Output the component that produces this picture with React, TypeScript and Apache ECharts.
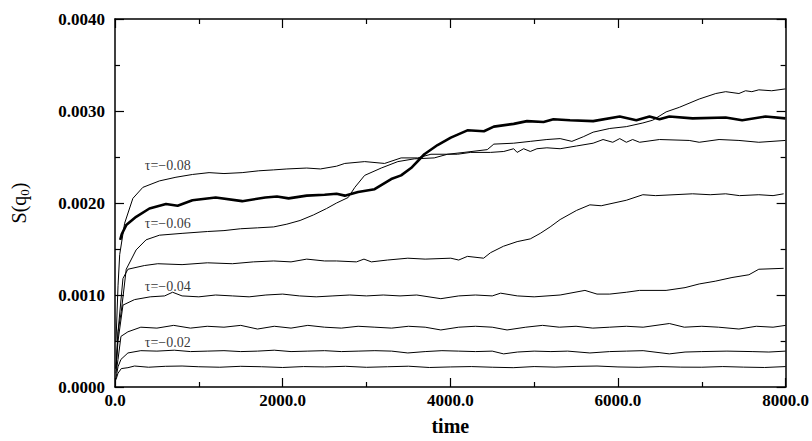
import React, { useEffect, useRef } from "react";
import * as echarts from "echarts";

const xTicks = [0, 2000, 4000, 6000, 8000];
const yTicks = [0, 0.001, 0.002, 0.003, 0.004];

const tau01: [number, number][] = [
  [12, 0.00008], [36, 0.00015], [75, 0.0002], [154, 0.00021], [233, 0.000228], [400, 0.000215], [600, 0.000225], [800, 0.000228],
  [1000, 0.00022], [1250, 0.000215], [1500, 0.000225], [1750, 0.00022], [2000, 0.000212], [2250, 0.000222], [2500, 0.000218],
  [2750, 0.000225], [3000, 0.000214], [3250, 0.00022], [3500, 0.000226], [3750, 0.000212], [4000, 0.000218], [4250, 0.000222],
  [4500, 0.000215], [4750, 0.00021], [5000, 0.000222], [5250, 0.000216], [5500, 0.000224], [5750, 0.000228], [6000, 0.000218],
  [6250, 0.000214], [6500, 0.000222], [6750, 0.000216], [7000, 0.000215], [7250, 0.000222], [7500, 0.000216], [7750, 0.000212],
  [8000, 0.000222],
];

const tau02: [number, number][] = [
  [12, 0.0001], [36, 0.00022], [71, 0.0003], [154, 0.00037], [308, 0.000395], [500, 0.00039], [707, 0.0004], [900, 0.000385],
  [1100, 0.00039], [1300, 0.000395], [1500, 0.000385], [1700, 0.00039], [1900, 0.0004], [2100, 0.000385], [2300, 0.00039],
  [2500, 0.000395], [2700, 0.000385], [2900, 0.00039], [3100, 0.000395], [3300, 0.00039], [3493, 0.00037], [3700, 0.000385],
  [3900, 0.000395], [4100, 0.00039], [4300, 0.000385], [4500, 0.00039], [4636, 0.00036], [4800, 0.00038], [5000, 0.00039],
  [5200, 0.000385], [5400, 0.00039], [5665, 0.00037], [5900, 0.000385], [6100, 0.00039], [6300, 0.000395], [6613, 0.00036],
  [6800, 0.00038], [7000, 0.000385], [7300, 0.00039], [7600, 0.000385], [7800, 0.00038], [8000, 0.00039],
];

const tau03: [number, number][] = [
  [12, 0.00015], [36, 0.0003], [71, 0.00055], [154, 0.0006], [308, 0.00065], [500, 0.00064], [700, 0.00067], [900, 0.00064],
  [1100, 0.00066], [1300, 0.00065], [1500, 0.00067], [1700, 0.00063], [1900, 0.00066], [2100, 0.00064], [2300, 0.00067],
  [2500, 0.00065], [2700, 0.00064], [2900, 0.00066], [3100, 0.00065], [3300, 0.00064], [3500, 0.00066], [3700, 0.00065],
  [3887, 0.00062], [4100, 0.00065], [4300, 0.00066], [4500, 0.00065], [4677, 0.00062], [4900, 0.00065], [5100, 0.00067],
  [5300, 0.00065], [5500, 0.00066], [5700, 0.00064], [5900, 0.00065], [6100, 0.00066], [6300, 0.00065], [6613, 0.00069],
  [6791, 0.00065], [7000, 0.00066], [7200, 0.00065], [7443, 0.00063], [7650, 0.00066], [7850, 0.00065], [8000, 0.00067],
];

const tau04: [number, number][] = [
  [12, 0.0002], [36, 0.0005], [95, 0.00089], [233, 0.00095], [420, 0.00098], [592, 0.00099], [687, 0.00103], [800, 0.00099],
  [1000, 0.00098], [1200, 0.001], [1400, 0.00099], [1600, 0.00098], [1800, 0.001], [2000, 0.00101], [2200, 0.00099],
  [2400, 0.00098], [2600, 0.00099], [2800, 0.001], [3000, 0.00099], [3200, 0.001], [3400, 0.00099], [3600, 0.001],
  [3887, 0.00096], [4100, 0.00099], [4300, 0.001], [4500, 0.00099], [4600, 0.00102], [4800, 0.00099], [5000, 0.00098],
  [5310, 0.001], [5606, 0.00105], [5750, 0.00101], [5902, 0.00101], [6100, 0.00103], [6258, 0.00105], [6574, 0.00105],
  [6800, 0.00108], [6969, 0.00112], [7160, 0.00115], [7360, 0.00119], [7562, 0.00122], [7680, 0.00128], [7976, 0.00129],
];

const tau05: [number, number][] = [
  [12, 0.0002], [36, 0.0006], [95, 0.00118], [154, 0.00128], [350, 0.00132], [510, 0.00134], [800, 0.00133], [1102, 0.00135],
  [1400, 0.00134], [1650, 0.00136], [1893, 0.00137], [2100, 0.00136], [2287, 0.00139], [2500, 0.00137], [2643, 0.00137],
  [2880, 0.00136], [2970, 0.00139], [3058, 0.00136], [3250, 0.00138], [3493, 0.0014], [3700, 0.00139], [4006, 0.0014],
  [4100, 0.00138], [4204, 0.00142], [4397, 0.0014], [4480, 0.00146], [4634, 0.00153], [4797, 0.00158], [4954, 0.00161],
  [5073, 0.00167], [5191, 0.00174], [5310, 0.00182], [5507, 0.00192], [5665, 0.00198], [5800, 0.00197], [6100, 0.00203],
  [6297, 0.00209], [6450, 0.00208], [6890, 0.0021], [7100, 0.00209], [7285, 0.0021], [7450, 0.00208], [7680, 0.00209],
  [7850, 0.00208], [7976, 0.0021],
];

const tau06: [number, number][] = [
  [12, 0.0002], [36, 0.0006], [75, 0.00082], [134, 0.00128], [252, 0.00149], [371, 0.0016], [530, 0.00165], [800, 0.00167],
  [1102, 0.00169], [1300, 0.0017], [1497, 0.00172], [1700, 0.00173], [1893, 0.00174], [2050, 0.00177], [2208, 0.00181],
  [2367, 0.00187], [2524, 0.00194], [2643, 0.002], [2782, 0.00206], [2861, 0.00217], [2978, 0.0023], [3176, 0.00238],
  [3374, 0.00245], [3571, 0.00248], [3808, 0.00249], [3967, 0.00253], [4164, 0.00255], [4441, 0.00258], [4519, 0.00264],
  [4756, 0.00265], [4954, 0.00267], [5152, 0.00269], [5310, 0.0027], [5450, 0.00267], [5586, 0.00272], [5704, 0.00277],
  [5902, 0.00281], [6100, 0.00283], [6297, 0.00287], [6415, 0.0029], [6574, 0.00299], [6732, 0.00304], [6969, 0.00313],
  [7167, 0.00319], [7285, 0.00321], [7443, 0.00319], [7522, 0.00322], [7597, 0.00321], [7680, 0.00323], [7834, 0.00322],
  [7997, 0.00324],
];

const tau07: [number, number][] = [
  [62, 0.0016], [80, 0.00166], [134, 0.00176], [252, 0.00185], [411, 0.00194], [608, 0.00199], [747, 0.00197],
  [924, 0.00203], [1201, 0.00206], [1517, 0.00202], [1793, 0.00206], [1932, 0.00207], [2071, 0.00205], [2287, 0.00208],
  [2500, 0.00209], [2643, 0.0021], [2741, 0.00208], [2900, 0.00212], [3097, 0.00215], [3295, 0.00226], [3413, 0.0023],
  [3532, 0.00238], [3690, 0.00253], [3848, 0.00263], [4006, 0.00271], [4204, 0.00279], [4401, 0.00278], [4519, 0.00283],
  [4756, 0.00286], [4915, 0.00289], [5112, 0.00288], [5230, 0.00291], [5428, 0.0029], [5704, 0.00289], [6021, 0.00294],
  [6219, 0.0029], [6376, 0.00294], [6495, 0.00291], [6613, 0.00294], [6890, 0.00292], [7285, 0.00293], [7482, 0.0029],
  [7760, 0.00294], [7997, 0.00292],
];

const tau08: [number, number][] = [
  [12, 0.0005], [36, 0.0011], [56, 0.00144], [115, 0.00178], [213, 0.00205], [332, 0.00217], [530, 0.00224], [727, 0.00228],
  [924, 0.00231], [1122, 0.00233], [1300, 0.00232], [1517, 0.00233], [1715, 0.00235], [1893, 0.00236], [2050, 0.00237],
  [2287, 0.00238], [2450, 0.00237], [2643, 0.0024], [2741, 0.00243], [2979, 0.00245], [3216, 0.00243], [3413, 0.00249],
  [3611, 0.00249], [3769, 0.00253], [4085, 0.00253], [4243, 0.00255], [4480, 0.00255], [4638, 0.00256], [4756, 0.00259],
  [4797, 0.00255], [4875, 0.00259], [4954, 0.00256], [5033, 0.00259], [5152, 0.0026], [5310, 0.00259], [5507, 0.00262],
  [5704, 0.00265], [5822, 0.00269], [5938, 0.00266], [6021, 0.0027], [6100, 0.00266], [6175, 0.00269], [6258, 0.00266],
  [6495, 0.00269], [6850, 0.00268], [6969, 0.00266], [7206, 0.00269], [7443, 0.00268], [7680, 0.00266], [7997, 0.00268],
];

const labelTexts = ["τ=−0.08", "τ=−0.06", "τ=−0.04", "τ=−0.02"];
const labelTimes = [356, 356, 356, 356];
const labelValues = [0.002406, 0.001772, 0.001094, 0.000484];

const FONT = "'Liberation Serif', 'Times New Roman', serif";

function axisCommon(showLabels: boolean, isX: boolean) {
  return {
    type: "value" as const,
    min: 0,
    max: isX ? 8000 : 0.004,
    interval: isX ? 2000 : 0.001,
    splitLine: { show: false },
    axisLine: { show: true, onZero: false, lineStyle: { color: "#000", width: 1.5 } },
    axisTick: { show: true, inside: true, length: 9, lineStyle: { color: "#000", width: 1.2 } },
    minorTick: { show: true, splitNumber: 2, length: 5, lineStyle: { color: "#000", width: 1.2 } },
    minorSplitLine: { show: false },
    axisLabel: {
      show: showLabels,
      color: "#000",
      fontFamily: FONT,
      fontWeight: "bold" as const,
      fontSize: 17,
      margin: isX ? 5 : 10,
      formatter: (v: number) => (isX ? v.toFixed(1) : v.toFixed(4)),
    },
  };
}

export default function App() {
  const ref = useRef<HTMLDivElement>(null);
  useEffect(() => {
    const chart = echarts.init(ref.current!, null, { renderer: "svg" });
    const lines = [tau01, tau02, tau03, tau04, tau05, tau06, tau07, tau08].map((d, i) => ({
      type: "line" as const,
      data: d,
      showSymbol: false,
      symbol: "none",
      xAxisIndex: 0,
      yAxisIndex: 0,
      lineStyle: { color: "#000", width: i === 6 ? 2.6 : 1 },
      z: i === 6 ? 3 : 2,
    }));
    chart.setOption({
      animation: false,
      backgroundColor: "#fff",
      grid: { left: 112, right: 25, top: 19, bottom: 48 },
      xAxis: [
        {
          ...axisCommon(true, true),
          position: "bottom",
          name: "time",
          nameLocation: "middle",
          nameGap: 29,
          nameTextStyle: { color: "#000", fontFamily: FONT, fontSize: 20, fontWeight: "bold" },
        },
        { ...axisCommon(false, true), position: "top" },
      ],
      yAxis: [
        {
          ...axisCommon(true, false),
          position: "left",
          name: "{s|S(q}{sub|0}{s|)}",
          nameLocation: "middle",
          nameGap: 84,
          nameRotate: 90,
          nameTextStyle: {
            color: "#000",
            fontFamily: FONT,
            rich: {
              s: { fontSize: 20, fontFamily: FONT, color: "#000", lineHeight: 24 },
              sub: { fontSize: 13, fontFamily: FONT, color: "#000", lineHeight: 24, verticalAlign: "bottom", padding: [10, 0, 0, 0] },
            },
          },
        },
        { ...axisCommon(false, false), position: "right" },
      ],
      series: [
        ...lines,
        {
          type: "scatter",
          symbolSize: 0,
          itemStyle: { color: "#000" },
          data: labelTexts.map((t, i) => ({ name: t, value: [labelTimes[i], labelValues[i]] })),
          label: {
            show: true,
            position: "right",
            distance: 0,
            formatter: "{b}",
            color: "#000",
            fontFamily: FONT,
            fontSize: 14,
          },
          z: 5,
        },
      ],
    });
    return () => chart.dispose();
  }, []);
  return <div ref={ref} style={{ position: "fixed", left: 0, top: 0, width: 812, height: 441, background: "#fff" }} />;
}
